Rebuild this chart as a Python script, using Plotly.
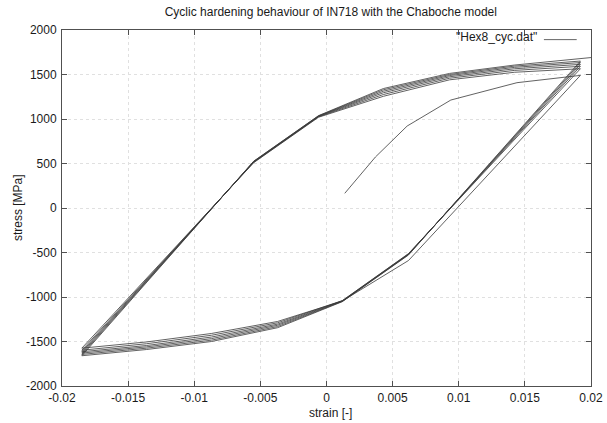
import plotly.graph_objects as go

# ---------------- data ----------------
legend_label = '"Hex8_cyc.dat"'

# initial monotonic loading
strain_initial = [0.00138, 0.0037, 0.0061, 0.0094, 0.0144, 0.0192]
stress_initial = [165, 573, 921, 1213, 1408, 1490]

# descending (unloading / compression) branches, strain sample points
strain_down = [0.0192, 0.0062, 0.0012, -0.0037, -0.0087, -0.0136, -0.0185]
stress_down_1 = [1490, -590, -1045, -1275, -1410, -1505, -1575]
stress_down_2 = [1565, -512, -1040, -1290, -1430, -1525, -1598]
stress_down_3 = [1592, -516, -1043, -1305, -1450, -1545, -1615]
stress_down_4 = [1614, -520, -1046, -1318, -1468, -1560, -1630]
stress_down_5 = [1634, -524, -1049, -1332, -1485, -1575, -1645]
stress_down_6 = [1651, -528, -1052, -1345, -1500, -1590, -1660]

# ascending (reloading / tension) branches
strain_up = [-0.0185, -0.0055, -0.0006, 0.0043, 0.0093, 0.0142, 0.0192]
stress_up_1 = [-1575, 510, 1020, 1255, 1440, 1525, 1565]
stress_up_2 = [-1598, 514, 1025, 1275, 1458, 1546, 1592]
stress_up_3 = [-1615, 518, 1029, 1295, 1474, 1564, 1614]
stress_up_4 = [-1630, 521, 1032, 1312, 1488, 1580, 1634]
stress_up_5 = [-1645, 524, 1035, 1328, 1500, 1594, 1651]
# last branch runs on past the right edge of the plot
strain_up_last = [-0.0185, -0.0055, -0.0006, 0.0043, 0.0093, 0.0142, 0.0241]
stress_up_6 = [-1660, 527, 1038, 1342, 1512, 1606, 1750]

x_tick_vals = [-0.02, -0.015, -0.01, -0.005, 0, 0.005, 0.01, 0.015, 0.02]
x_tick_text = ["-0.02", "-0.015", "-0.01", "-0.005", "0", "0.005", "0.01", "0.015", "0.02"]
y_tick_vals = [-2000, -1500, -1000, -500, 0, 500, 1000, 1500, 2000]
y_tick_text = ["-2000", "-1500", "-1000", "-500", "0", "500", "1000", "1500", "2000"]

# ---------------- assemble the path ----------------
downs = [stress_down_1, stress_down_2, stress_down_3, stress_down_4, stress_down_5, stress_down_6]
ups = [stress_up_1, stress_up_2, stress_up_3, stress_up_4, stress_up_5, stress_up_6]

xs = list(strain_initial)
ys = list(stress_initial)
for i, (d, u) in enumerate(zip(downs, ups)):
    xs += strain_down[1:]
    ys += d[1:]
    sx = strain_up_last if i == len(ups) - 1 else strain_up
    xs += sx[1:]
    ys += u[1:]

FONT = "Liberation Sans, Arial, sans-serif"
TXT = "#1a1a1a"
fig = go.Figure()
fig.add_trace(go.Scatter(
    x=xs, y=ys, mode="lines", name=legend_label,
    line=dict(color="#3a3a3a", width=0.8), showlegend=False,
))

axis_common = dict(
    showline=True, linecolor="#505050", linewidth=1, mirror="ticks",
    ticks="inside", ticklen=5, tickcolor="#505050", tickwidth=1,
    showgrid=True, gridcolor="#e0e0e0", griddash="dot", gridwidth=1,
    zeroline=False, automargin=False,
    tickfont=dict(family=FONT, size=12, color=TXT),
)
fig.update_xaxes(range=[-0.02, 0.02], tickvals=x_tick_vals, ticktext=x_tick_text,
                 ticklabelstandoff=1, **axis_common)
fig.update_yaxes(range=[-2000, 2000], tickvals=y_tick_vals, ticktext=y_tick_text,
                 ticklabelstandoff=2, **axis_common)

# axis titles
fig.add_annotation(x=0.508, y=-0.077, xref="paper", yref="paper", text="strain [-]",
                   showarrow=False, xanchor="center", yanchor="middle",
                   font=dict(family=FONT, size=12, color=TXT))
fig.add_annotation(x=-0.083, y=0.5, xref="paper", yref="paper", text="stress [MPa]",
                   showarrow=False, xanchor="center", yanchor="middle", textangle=-90,
                   font=dict(family=FONT, size=12, color=TXT))

# legend drawn gnuplot-style: text then line sample
fig.add_annotation(x=0.902, y=0.981, xref="paper", yref="paper", text=legend_label,
                   showarrow=False, xanchor="right", yanchor="middle",
                   font=dict(family=FONT, size=12, color=TXT))
fig.add_shape(type="line", xref="paper", yref="paper", x0=0.911, x1=0.973, y0=0.973, y1=0.973,
              line=dict(color="#666666", width=1))

fig.update_layout(
    width=607, height=423,
    margin=dict(l=62, r=16, t=30, b=37),
    paper_bgcolor="white", plot_bgcolor="white",
    title=dict(text="Cyclic hardening behaviour of IN718 with the Chaboche model",
               x=0.545, xanchor="center", y=0.972, yanchor="middle",
               font=dict(family=FONT, size=12, color=TXT)),
)
fig.write_html("out.html", config={"displayModeBar": False},
               post_script="document.body.style.margin='0';document.body.style.overflow='hidden';")
